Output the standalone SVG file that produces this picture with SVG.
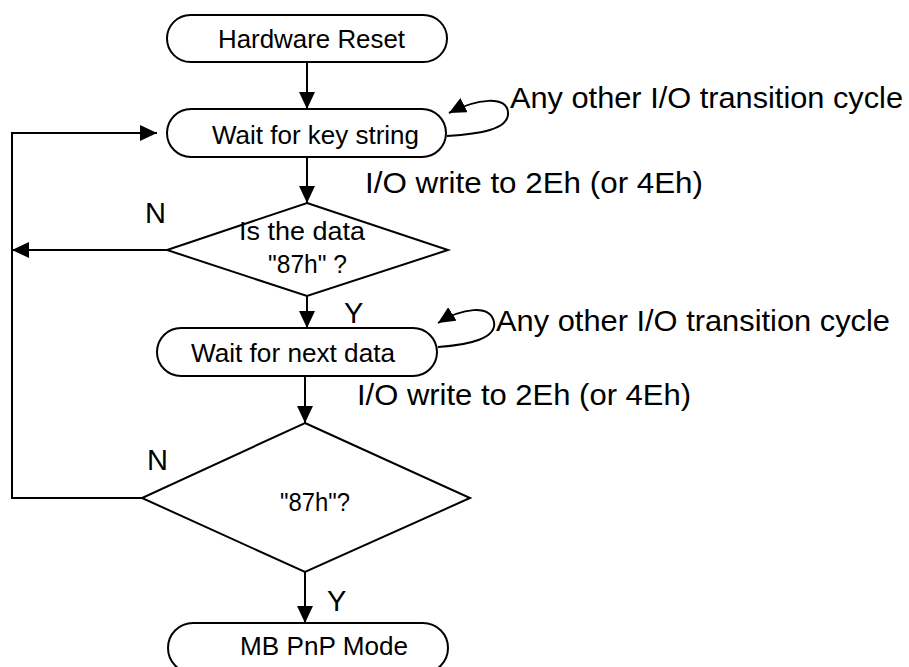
<svg xmlns="http://www.w3.org/2000/svg" width="909" height="667" viewBox="0 0 909 667">
<style>
.box{fill:#fff;stroke:#000;stroke-width:2}
.ln{fill:none;stroke:#000;stroke-width:2}
text{font-family:"Liberation Sans",Arial,sans-serif;fill:#000}
.t{font-size:25px}
.big{font-size:29px}
</style>
<defs>
<marker id="ah" markerUnits="userSpaceOnUse" markerWidth="18" markerHeight="16" refX="17" refY="8" orient="auto">
<path d="M0,0 L17,8 L0,16 Z" fill="#000"/>
</marker>
</defs>
<rect width="909" height="667" fill="#fff"/>
<g id="connectors">
<line class="ln" x1="307" y1="62" x2="307" y2="109" marker-end="url(#ah)"/>
<line class="ln" x1="307" y1="157" x2="307" y2="203" marker-end="url(#ah)"/>
<line class="ln" x1="307" y1="296" x2="307" y2="328" marker-end="url(#ah)"/>
<line class="ln" x1="305" y1="376" x2="305" y2="423" marker-end="url(#ah)"/>
<line class="ln" x1="305" y1="572" x2="305" y2="623" marker-end="url(#ah)"/>
<line class="ln" x1="167" y1="250" x2="12" y2="250" marker-end="url(#ah)"/>
<polyline class="ln" points="142,498 12,498 12,133 157,133" marker-end="url(#ah)"/>
<path class="ln" d="M447,136 C478,134 510,130 508,112 C506,96 478,98 449,113" marker-end="url(#ah)"/>
<path class="ln" d="M438,347 C470,345 497,338 494,322 C490,304 462,308 438,323" marker-end="url(#ah)"/>
</g>
<g id="hardware-reset">
<rect class="box" x="167" y="15" width="280" height="47" rx="23.5"/>
<text class="t" x="218" y="48" textLength="187" lengthAdjust="spacingAndGlyphs">Hardware Reset</text>
</g>
<g id="wait-key">
<rect class="box" x="167" y="109" width="279" height="48" rx="24"/>
<text class="t" x="212" y="144" textLength="207" lengthAdjust="spacingAndGlyphs">Wait for key string</text>
</g>
<g id="decision-1">
<polygon class="box" points="307,203 448,250 307,296 167,250"/>
<text class="t" x="239" y="240" textLength="126" lengthAdjust="spacingAndGlyphs">Is the data</text>
<text class="t" x="268" y="273" textLength="79" lengthAdjust="spacingAndGlyphs">"87h" ?</text>
</g>
<g id="wait-next">
<rect class="box" x="157" y="328" width="280" height="48" rx="24"/>
<text class="t" x="191" y="362" textLength="204" lengthAdjust="spacingAndGlyphs">Wait for next data</text>
</g>
<g id="decision-2">
<polygon class="box" points="305,423 470,498 305,572 142,498"/>
<text class="t" x="280" y="511" textLength="70" lengthAdjust="spacingAndGlyphs">"87h"?</text>
</g>
<g id="mb-pnp">
<rect class="box" x="168" y="623" width="280" height="50" rx="25"/>
<text class="t" x="240" y="655" textLength="168" lengthAdjust="spacingAndGlyphs">MB PnP Mode</text>
</g>
<g id="labels">
<text class="big" x="510" y="108" textLength="393" lengthAdjust="spacingAndGlyphs">Any other I/O transition cycle</text>
<text class="big" x="365" y="193" textLength="338" lengthAdjust="spacingAndGlyphs">I/O write to 2Eh (or 4Eh)</text>
<text class="big" x="496" y="331" textLength="394" lengthAdjust="spacingAndGlyphs">Any other I/O transition cycle</text>
<text class="big" x="357" y="405" textLength="334" lengthAdjust="spacingAndGlyphs">I/O write to 2Eh (or 4Eh)</text>
<text class="big" x="145" y="223">N</text>
<text class="big" x="147" y="470">N</text>
<text class="big" x="344" y="323">Y</text>
<text class="big" x="327" y="611">Y</text>
</g>
</svg>
